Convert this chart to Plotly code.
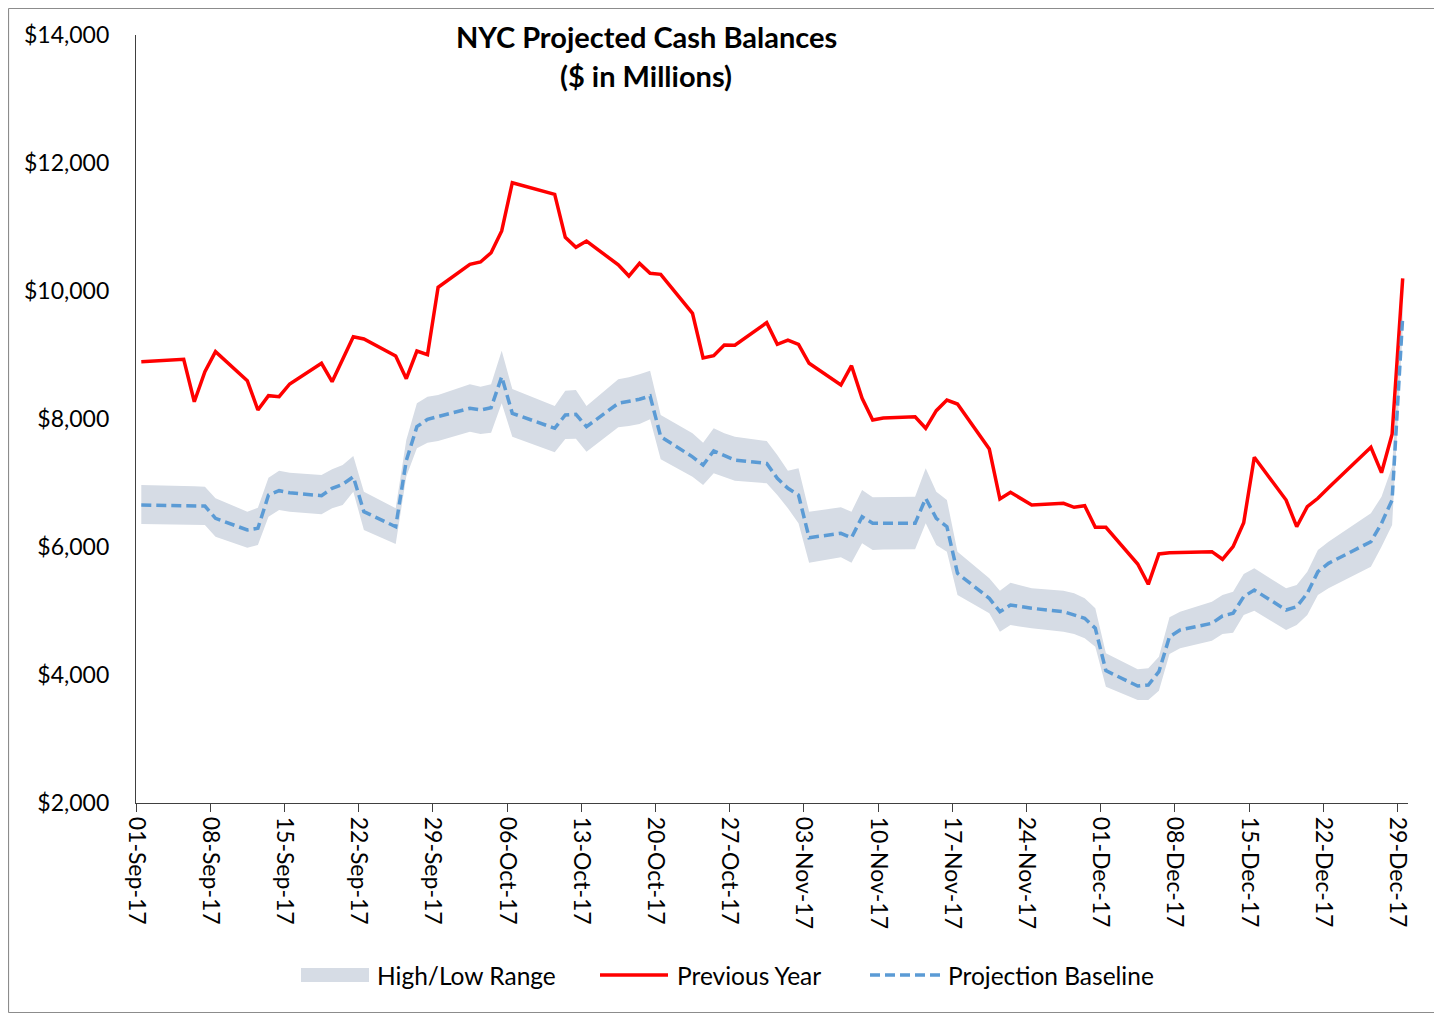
import plotly.graph_objects as go
import pandas as pd

# ---- data (business days, $ millions) ----
dates = [
    "2017-09-01", "2017-09-05", "2017-09-06", "2017-09-07", "2017-09-08",
    "2017-09-11", "2017-09-12", "2017-09-13", "2017-09-14", "2017-09-15",
    "2017-09-18", "2017-09-19", "2017-09-20", "2017-09-21", "2017-09-22",
    "2017-09-25", "2017-09-26", "2017-09-27", "2017-09-28", "2017-09-29",
    "2017-10-02", "2017-10-03", "2017-10-04", "2017-10-05", "2017-10-06",
    "2017-10-10", "2017-10-11", "2017-10-12", "2017-10-13",
    "2017-10-16", "2017-10-17", "2017-10-18", "2017-10-19", "2017-10-20",
    "2017-10-23", "2017-10-24", "2017-10-25", "2017-10-26", "2017-10-27",
    "2017-10-30", "2017-10-31", "2017-11-01", "2017-11-02", "2017-11-03",
    "2017-11-06", "2017-11-07", "2017-11-08", "2017-11-09", "2017-11-10",
    "2017-11-13", "2017-11-14", "2017-11-15", "2017-11-16", "2017-11-17",
    "2017-11-20", "2017-11-21", "2017-11-22", "2017-11-24",
    "2017-11-27", "2017-11-28", "2017-11-29", "2017-11-30", "2017-12-01",
    "2017-12-04", "2017-12-05", "2017-12-06", "2017-12-07", "2017-12-08",
    "2017-12-11", "2017-12-12", "2017-12-13", "2017-12-14", "2017-12-15",
    "2017-12-18", "2017-12-19", "2017-12-20", "2017-12-21", "2017-12-22",
    "2017-12-26", "2017-12-27", "2017-12-28", "2017-12-29",
]

previous_year = [
    8895, 8933, 8270, 8739, 9052,
    8598, 8141, 8364, 8348, 8547,
    8870, 8583, 8934, 9286, 9250,
    8984, 8630, 9062, 9005, 10058,
    10417, 10453, 10598, 10938, 11692,
    11511, 10839, 10683, 10781,
    10408, 10234, 10432, 10277, 10261,
    9652, 8953, 8989, 9156, 9152,
    9505, 9167, 9234, 9167, 8870,
    8531, 8833, 8323, 7984, 8016,
    8036, 7855, 8130, 8297, 8234,
    7531, 6750, 6855, 6656,
    6683, 6620, 6645, 6308, 6308,
    5734, 5417, 5891, 5911, 5912,
    5927, 5808, 6005, 6380, 7402,
    6734, 6317, 6630, 6761, 6927,
    7558, 7161, 7761, 10198,
]

projection_baseline = [
    6656, 6645, 6645, 6640, 6448,
    6266, 6292, 6812, 6880, 6848,
    6802, 6917, 6980, 7098, 6552,
    6317, 7350, 7880, 7995, 8036,
    8167, 8141, 8177, 8661, 8089,
    7855, 8062, 8073, 7880,
    8245, 8270, 8308, 8359, 7724,
    7409, 7281, 7500, 7427, 7359,
    7305, 7073, 6917, 6812, 6145,
    6214, 6145, 6473, 6370, 6370,
    6370, 6761, 6448, 6317, 5589,
    5198, 4989, 5094, 5042,
    4989, 4938, 4886, 4730, 4068,
    3828, 3844, 4052, 4598, 4703,
    4808, 4922, 4964, 5224, 5328,
    5016, 5067, 5277, 5614, 5745,
    6083, 6370, 6734, 9599,
]

range_high = [
    6969, 6960, 6950, 6942, 6761,
    6552, 6614, 7083, 7192, 7161,
    7125, 7214, 7281, 7422, 6864,
    6605, 7672, 8245, 8348, 8375,
    8542, 8505, 8542, 9067, 8469,
    8203, 8442, 8453, 8203,
    8620, 8651, 8698, 8755, 8062,
    7776, 7630, 7855, 7776, 7724,
    7656, 7437, 7192, 7230, 6552,
    6620, 6552, 6891, 6776, 6780,
    6786, 7230, 6864, 6734, 5927,
    5511, 5317, 5442, 5355,
    5317, 5277, 5198, 5042, 4339,
    4089, 4104, 4286, 4901, 4989,
    5145, 5250, 5302, 5578, 5667,
    5355, 5406, 5614, 5953, 6083,
    6527, 6786, 7255, 9800,
]

range_low = [
    6359, 6355, 6350, 6344, 6161,
    5989, 6031, 6473, 6578, 6552,
    6511, 6605, 6656, 6864, 6266,
    6047, 7100, 7542, 7630, 7656,
    7802, 7766, 7786, 8245, 7724,
    7480, 7687, 7690, 7489,
    7870, 7891, 7922, 7995, 7370,
    7099, 6969, 7151, 7089, 7036,
    6995, 6813, 6605, 6370, 5755,
    5839, 5755, 6058, 5953, 5960,
    5964, 6370, 6031, 5927, 5250,
    4964, 4677, 4781, 4729,
    4677, 4641, 4573, 4443, 3818,
    3609, 3609, 3755, 4328, 4417,
    4536, 4641, 4661, 4938, 5005,
    4703, 4781, 4938, 5250, 5355,
    5692, 6005, 6344, 9400,
]

series_names = ["High/Low Range", "Previous Year", "Projection Baseline"]
title_lines = ["NYC Projected Cash Balances", "($ in Millions)"]

# ---- styling ----
FONT = "Lato, 'Open Sans', sans-serif"
RED = "#FF0000"
BLUE = "#5B9BD5"
BAND = "#D6DCE5"
AXIS = "#404040"
BORDER = "#8C8C8C"

# The page body has an 8px margin, so the figure is drawn 8px in from the
# window corner; all pixel positions below are window positions.
OFF = 8
W, H = 1442 - OFF, 1015 - OFF
L, R, T, B = 136, 1408, 35, 803   # plot area in window pixels


def px(p):
    return (p - L) / (R - L)


def py(q):
    return (B - q) / (B - T)


# Excel date axis: each point sits in the middle of its day
x = pd.to_datetime(dates) + pd.Timedelta(hours=12)

fig = go.Figure()
fig.add_trace(go.Scatter(x=x, y=range_low, mode="lines", line=dict(width=0),
                         hoverinfo="skip", showlegend=False))
fig.add_trace(go.Scatter(x=x, y=range_high, mode="lines", line=dict(width=0),
                         fill="tonexty", fillcolor=BAND, name=series_names[0],
                         showlegend=False))
fig.add_trace(go.Scatter(x=x, y=previous_year, mode="lines",
                         line=dict(color=RED, width=3.5), name=series_names[1],
                         showlegend=False))
fig.add_trace(go.Scatter(x=x, y=projection_baseline, mode="lines",
                         line=dict(color=BLUE, width=3.5, dash="10px,5px"),
                         name=series_names[2], showlegend=False))

fig.update_layout(
    width=W, height=H,
    margin=dict(l=L - OFF, r=W + OFF - R, t=T - OFF, b=H + OFF - B, pad=0),
    paper_bgcolor="white", plot_bgcolor="white",
    font=dict(family=FONT, size=23, color="#000000"),
    showlegend=False,
)

fig.update_xaxes(
    type="date",
    range=["2017-09-01", "2017-12-30"],
    tick0="2017-09-01", dtick=7 * 24 * 3600 * 1000,
    tickformat="%d-%b-%y", tickangle=90,
    ticks="outside", ticklen=8, tickcolor=AXIS, tickwidth=1,
    showline=True, linecolor=AXIS, linewidth=1.3,
    showgrid=False, zeroline=False,
    tickfont=dict(family=FONT, size=23, color="#000000"),
)
fig.update_yaxes(
    range=[2000, 14000], dtick=2000,
    tickprefix="$", tickformat=",d",
    ticks="", showline=True, linecolor=AXIS, linewidth=1.3,
    showgrid=False, zeroline=False,
    ticklabelstandoff=21,
    tickfont=dict(family=FONT, size=23, color="#000000"),
)

# title (two centered bold lines)
title_cx = px(646)
fig.add_annotation(text="<b>%s</b>" % title_lines[0], xref="paper", yref="paper",
                   x=title_cx, y=py(37), xanchor="center", yanchor="middle",
                   showarrow=False, font=dict(family=FONT, size=29, color="#000000"))
fig.add_annotation(text="<b>%s</b>" % title_lines[1], xref="paper", yref="paper",
                   x=title_cx, y=py(76), xanchor="center", yanchor="middle",
                   showarrow=False, font=dict(family=FONT, size=29, color="#000000"))

# legend (drawn manually to match long Excel swatches)
ly = 975
shapes = [
    dict(type="rect", xref="paper", yref="paper", x0=px(301), x1=px(369),
         y0=py(968), y1=py(982), fillcolor=BAND, line=dict(width=0)),
    dict(type="line", xref="paper", yref="paper", x0=px(600), x1=px(668),
         y0=py(ly), y1=py(ly), line=dict(color=RED, width=3.5)),
    dict(type="line", xref="paper", yref="paper", x0=px(870), x1=px(940),
         y0=py(ly), y1=py(ly), line=dict(color=BLUE, width=3.5, dash="10px,5px")),
]
# chart-area border (four edges, kept inside the drawable figure)
bl, br, bt, bb = 8.5, 1435.5, 8.5, 1012.5
for (xa, ya, xb, yb) in [(bl, bt, br, bt), (bl, bb, br, bb),
                         (bl, bt, bl, bb), (br, bt, br, bb)]:
    shapes.append(dict(type="line", xref="paper", yref="paper",
                       x0=px(xa), y0=py(ya), x1=px(xb), y1=py(yb),
                       line=dict(color=BORDER, width=1.2)))
for nm, x0 in zip(series_names, [375, 675, 946]):
    fig.add_annotation(text=nm, xref="paper", yref="paper", x=px(x0), y=py(ly),
                       xanchor="left", yanchor="middle", showarrow=False,
                       font=dict(family=FONT, size=24.5, color="#000000"))
fig.update_layout(shapes=shapes)

fig.write_html("out.html")
